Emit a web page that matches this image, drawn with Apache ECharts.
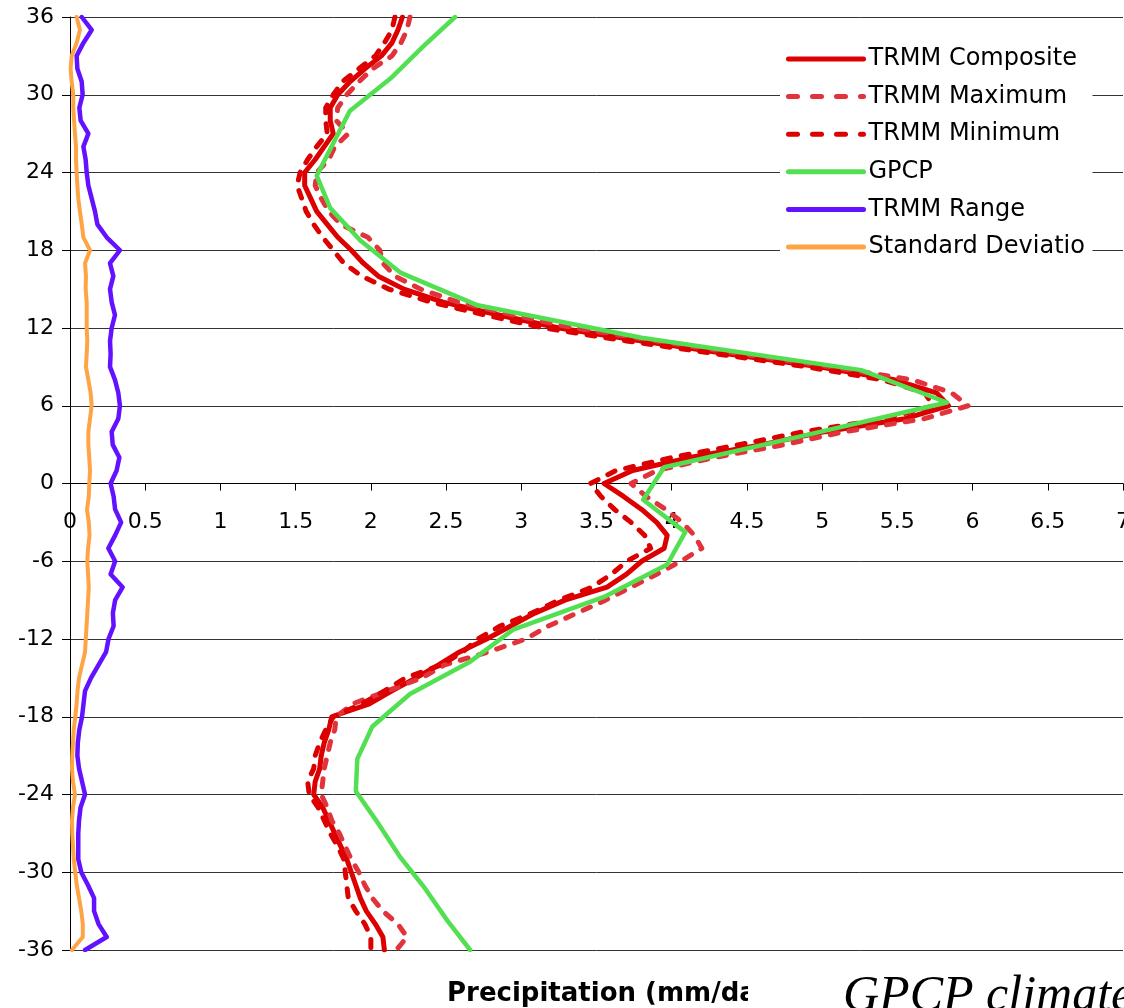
<!DOCTYPE html>
<html>
<head>
<meta charset="utf-8">
<title>Zonal mean precipitation: TRMM vs GPCP</title>
<script src="https://cdn.jsdelivr.net/npm/echarts/dist/echarts.min.js"></script>
<style>
  html, body { margin: 0; padding: 0; background: #fff; }
  #chart { width: 1124px; height: 1008px; }
</style>
</head>
<body>
<div id="chart"></div>
<script>
// Latitude rows (degrees) for the 1-degree TRMM profiles
const lat = [36, 35, 34, 33, 32, 31, 30, 29, 28, 27, 26, 25, 24, 23, 22, 21, 20, 19, 18, 17, 16, 15, 14, 13, 12, 11, 10, 9, 8, 7, 6, 5, 4, 3, 2, 1, 0,
  -1, -2, -3, -4, -5, -6, -7, -8, -9, -10, -11, -12, -13, -14, -15, -16, -17, -18, -19, -20, -21, -22, -23, -24, -25, -26, -27, -28, -29, -30, -31, -32, -33, -34, -35, -36];

// Zonal mean precipitation (mm/day)
const trmmComposite = [2.21, 2.18, 2.14, 2.07, 1.96, 1.86, 1.78, 1.73, 1.73, 1.75, 1.69, 1.63, 1.56, 1.56, 1.60, 1.64, 1.71, 1.78, 1.87, 1.95, 2.05, 2.22, 2.48, 2.85, 3.25, 3.80, 4.38, 4.98, 5.48, 5.76, 5.84, 5.55, 5.02, 4.60, 4.12, 3.74, 3.55,
  3.68, 3.80, 3.90, 3.97, 3.95, 3.80, 3.70, 3.57, 3.29, 3.09, 2.93, 2.77, 2.59, 2.45, 2.30, 2.14, 1.99, 1.74, 1.72, 1.69, 1.67, 1.66, 1.63, 1.62, 1.68, 1.72, 1.76, 1.80, 1.84, 1.87, 1.90, 1.93, 1.97, 2.03, 2.08, 2.09];

const trmmMaximum = [2.26, 2.24, 2.20, 2.14, 2.01, 1.92, 1.84, 1.78, 1.77, 1.85, 1.76, 1.72, 1.64, 1.63, 1.67, 1.72, 1.80, 1.98, 2.06, 2.08, 2.16, 2.33, 2.58, 2.95, 3.35, 3.90, 4.46, 5.06, 5.60, 5.86, 5.97, 5.68, 5.15, 4.75, 4.28, 3.90, 3.73,
  3.83, 3.96, 4.07, 4.15, 4.20, 4.06, 3.90, 3.73, 3.56, 3.37, 3.18, 3.03, 2.78, 2.49, 2.34, 2.11, 1.88, 1.77, 1.76, 1.73, 1.71, 1.69, 1.68, 1.67, 1.71, 1.74, 1.79, 1.83, 1.87, 1.92, 1.96, 2.01, 2.08, 2.18, 2.24, 2.17];

const trmmMinimum = [2.16, 2.14, 2.09, 2.03, 1.92, 1.81, 1.75, 1.70, 1.70, 1.71, 1.64, 1.58, 1.53, 1.51, 1.54, 1.57, 1.62, 1.68, 1.75, 1.82, 1.94, 2.12, 2.40, 2.76, 3.15, 3.70, 4.30, 4.90, 5.40, 5.68, 5.74, 5.42, 4.88, 4.45, 4.00, 3.63, 3.46,
  3.53, 3.62, 3.73, 3.82, 3.86, 3.70, 3.60, 3.47, 3.25, 3.07, 2.86, 2.71, 2.61, 2.47, 2.23, 2.09, 1.94, 1.75, 1.70, 1.66, 1.63, 1.62, 1.58, 1.59, 1.65, 1.69, 1.73, 1.78, 1.82, 1.83, 1.84, 1.85, 1.90, 1.96, 2.00, 2.00];

const trmmRange = [0.078, 0.144, 0.089, 0.044, 0.049, 0.078, 0.084, 0.062, 0.071, 0.122, 0.089, 0.104, 0.111, 0.122, 0.144, 0.166, 0.182, 0.244, 0.332, 0.266, 0.288, 0.266, 0.277, 0.299, 0.277, 0.266, 0.270, 0.266, 0.299, 0.321, 0.332, 0.321, 0.277, 0.284, 0.328, 0.310, 0.270,
  0.290, 0.300, 0.340, 0.300, 0.255, 0.300, 0.270, 0.350, 0.300, 0.285, 0.290, 0.256, 0.240, 0.190, 0.140, 0.100, 0.090, 0.080, 0.062, 0.052, 0.049, 0.060, 0.080, 0.100, 0.070, 0.060, 0.055, 0.055, 0.055, 0.075, 0.120, 0.160, 0.160, 0.190, 0.244, 0.100];

const stdDev = [0.044, 0.066, 0.044, 0.011, 0.004, 0.011, 0.022, 0.022, 0.027, 0.033, 0.040, 0.040, 0.044, 0.049, 0.055, 0.066, 0.078, 0.089, 0.133, 0.100, 0.106, 0.104, 0.111, 0.111, 0.111, 0.115, 0.111, 0.106, 0.122, 0.137, 0.144, 0.133, 0.122, 0.122, 0.128, 0.133, 0.128,
  0.125, 0.113, 0.125, 0.130, 0.120, 0.115, 0.120, 0.125, 0.120, 0.115, 0.110, 0.105, 0.100, 0.080, 0.060, 0.050, 0.044, 0.035, 0.025, 0.020, 0.015, 0.013, 0.020, 0.033, 0.020, 0.013, 0.015, 0.020, 0.025, 0.035, 0.045, 0.060, 0.075, 0.085, 0.085, 0.013];

// GPCP on its 2.5-degree grid (plus the plot edges)
const gpcpLat = [36, 33.75, 31.25, 28.75, 26.25, 23.75, 21.25, 18.75, 16.25, 13.75, 11.25, 8.75, 6.25, 3.75, 1.25,
  -1.25, -3.75, -6.25, -8.75, -11.25, -13.75, -16.25, -18.75, -21.25, -23.75, -26.25, -28.75, -31.25, -33.75, -36];
const gpcp = [2.56, 2.35, 2.13, 1.86, 1.75, 1.64, 1.73, 1.93, 2.20, 2.71, 3.80, 5.26, 5.83, 4.90, 3.95,
  3.81, 4.09, 3.97, 3.55, 2.95, 2.66, 2.26, 2.01, 1.91, 1.90, 2.05, 2.19, 2.36, 2.51, 2.66];

// Precipitation axis ticks
const xMin = 0, xMax = 7, xStep = 0.5;
// Latitude axis ticks
const yMin = -36, yMax = 36, yStep = 6;

// Plot frame (px)
const gridTop = 17, gridBottom = 58, chartHeight = 1008;
const gridHeight = chartHeight - gridTop - gridBottom;
// The precipitation axis crosses the latitude axis at the equator
const equatorOffset = -gridHeight * (0 - yMin) / (yMax - yMin);

const pairs = (xs, ys) => ys.map((y, i) => [xs[i], y]);

function lineSeries(name, values, lats, color, width, dashed) {
  return {
    name: name,
    type: 'line',
    data: pairs(values, lats),
    symbol: 'none',
    showSymbol: false,
    smooth: false,
    clip: true,
    itemStyle: { color: color },
    lineStyle: {
      color: color,
      width: width,
      type: dashed ? [8, 11] : 'solid',
      cap: 'round',
      join: 'round'
    },
    emphasis: { disabled: true }
  };
}

const solidLegendLine = { width: 5, cap: 'round' };
const dashedLegendLine = { width: 5, type: [9, 15], cap: 'round' };

const chart = echarts.init(document.getElementById('chart'), null, { renderer: 'canvas' });

chart.setOption({
  animation: false,
  backgroundColor: '#ffffff',
  textStyle: { fontFamily: 'DejaVu Sans' },
  grid: {
    left: 70, right: 1, top: gridTop, bottom: gridBottom,
    outerBoundsMode: 'none'
  },
  xAxis: {
    type: 'value',
    min: xMin, max: xMax, interval: xStep,
    offset: equatorOffset,
    axisLine: { show: true, onZero: false, lineStyle: { color: '#000', width: 1 } },
    axisTick: { show: true, length: 7, lineStyle: { color: '#000', width: 1 } },
    axisLabel: { fontSize: 22, color: '#000', margin: 28, fontFamily: 'DejaVu Sans' },
    splitLine: { show: false }
  },
  yAxis: {
    type: 'value',
    min: yMin, max: yMax, interval: yStep,
    axisLine: { show: true, onZero: false, lineStyle: { color: '#000', width: 1 } },
    axisTick: { show: true, length: 8, lineStyle: { color: '#000', width: 1 } },
    axisLabel: { fontSize: 22, color: '#000', margin: 16, fontFamily: 'DejaVu Sans' },
    splitLine: { show: true, lineStyle: { color: '#333333', width: 1 } }
  },
  legend: {
    orient: 'vertical',
    left: 780, top: 39,
    padding: [8, 0, 8, 6],
    backgroundColor: '#ffffff',
    itemWidth: 75, itemHeight: 14,
    itemGap: 13.6, itemTextGap: 5,
    selectedMode: false,
    itemStyle: { opacity: 0 },
    lineStyle: { width: 5, cap: 'round' },
    textStyle: {
      fontSize: 24, lineHeight: 24, color: '#000', fontFamily: 'DejaVu Sans',
      width: 224, overflow: 'truncate', ellipsis: ''
    },
    data: [
      { name: 'TRMM Composite', lineStyle: solidLegendLine },
      { name: 'TRMM Maximum', lineStyle: dashedLegendLine },
      { name: 'TRMM Minimum', lineStyle: dashedLegendLine },
      { name: 'GPCP', lineStyle: solidLegendLine },
      { name: 'TRMM Range', lineStyle: solidLegendLine },
      { name: 'Standard Deviation', lineStyle: solidLegendLine }
    ]
  },
  graphic: [
    {
      type: 'text', x: 447, y: 994,
      style: {
        text: 'Precipitation (mm/day)',
        font: 'bold 26px "DejaVu Sans"', fill: '#000',
        verticalAlign: 'middle', align: 'left'
      }
    },
    {
      // the axis title box is narrower than its text
      type: 'rect',
      shape: { x: 748, y: 970, width: 90, height: 38 },
      style: { fill: '#ffffff' }
    },
    {
      type: 'text', x: 843, y: 997,
      style: {
        text: 'GPCP climate',
        font: 'italic 50px "Liberation Serif"', fill: '#000',
        verticalAlign: 'middle', align: 'left'
      }
    }
  ],
  series: [
    lineSeries('TRMM Composite', trmmComposite, lat, '#dc0000', 5, false),
    lineSeries('TRMM Maximum', trmmMaximum, lat, '#e2323c', 5, true),
    lineSeries('TRMM Minimum', trmmMinimum, lat, '#dc0000', 5, true),
    lineSeries('GPCP', gpcp, gpcpLat, '#52e052', 4.5, false),
    lineSeries('TRMM Range', trmmRange, lat, '#6212ff', 4.5, false),
    lineSeries('Standard Deviation', stdDev, lat, '#ffa444', 4, false)
  ]
});
</script>
</body>
</html>
